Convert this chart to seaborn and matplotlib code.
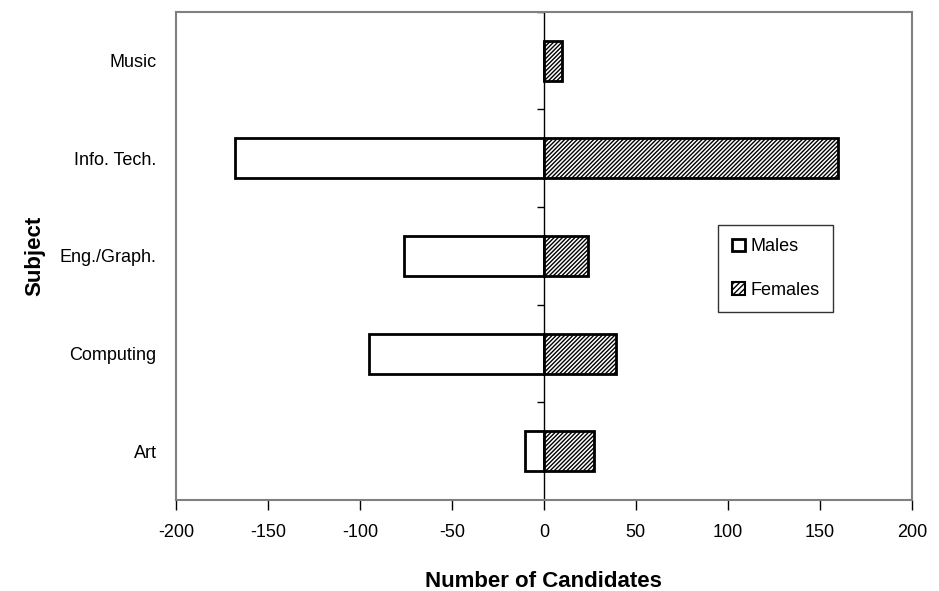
import pandas as pd
import matplotlib.pyplot as plt
import seaborn as sns
from matplotlib.patches import Patch

subjects = ['Music', 'Info. Tech.', 'Eng./Graph.', 'Computing', 'Art']
males = [0, -168, -76, -95, -10]
females = [10, 160, 24, 39, 27]
xticks = [-200, -150, -100, -50, 0, 50, 100, 150, 200]

df = pd.DataFrame({'Subject': subjects, 'Males': males, 'Females': females})

sns.set_style('white')
plt.rcParams['font.family'] = ['Liberation Sans', 'DejaVu Sans']
plt.rcParams['hatch.linewidth'] = 1.0
plt.rcParams['text.color'] = 'black'
plt.rcParams['axes.labelcolor'] = 'black'
plt.rcParams['xtick.color'] = 'black'
plt.rcParams['ytick.color'] = 'black'

fig = plt.figure(figsize=(9.39, 5.91), dpi=100)
ax = fig.add_axes([0.1874, 0.154, 0.7836, 0.826])

# males (plain white) and females (hatched) share the same row
sns.barplot(data=df, x='Males', y='Subject', order=subjects, orient='h', ax=ax,
            color='white', edgecolor='black', linewidth=2, width=0.41, saturation=1)
sns.barplot(data=df, x='Females', y='Subject', order=subjects, orient='h', ax=ax,
            color='white', edgecolor='black', linewidth=2, width=0.41, saturation=1,
            hatch='////////')

ax.set_xlim(-200, 200)
ax.set_ylim(len(subjects) - 0.5, -0.5)
ax.axvline(0, color='black', lw=1, zorder=0.5)

# small ticks on the zero line between categories
bounds = [i - 0.5 for i in range(len(subjects) + 1)]
ax.hlines(bounds, -3.5, 0, color='black', lw=1)

ax.set_xticks(xticks)
ax.set_xticklabels([str(v) for v in xticks], fontsize=13)
ax.tick_params(axis='x', direction='out', length=7, width=1, color='black', bottom=True, pad=10)
ax.tick_params(axis='y', length=0, labelsize=13, pad=14)

for s in ax.spines.values():
    s.set_color('#808080')
    s.set_linewidth(1.5)
    s.set_visible(True)

ax.set_xlabel('Number of Candidates', fontsize=16, fontweight='bold', labelpad=22)
ax.set_ylabel('Subject', fontsize=16, fontweight='bold', labelpad=10)

handles = [Patch(facecolor='white', edgecolor='black', linewidth=2, label='Males'),
           Patch(facecolor='white', edgecolor='black', linewidth=1.5, hatch='//////', label='Females')]
leg = ax.legend(handles=handles, loc='upper left', bbox_to_anchor=(0.725, 0.582),
                fontsize=13, frameon=True, fancybox=False, edgecolor='black',
                handlelength=0.7, handleheight=0.7, handletextpad=0.3,
                labelspacing=1.45, borderpad=0.75)
leg.get_frame().set_linewidth(1)

fig.savefig('out.png', dpi=100)
